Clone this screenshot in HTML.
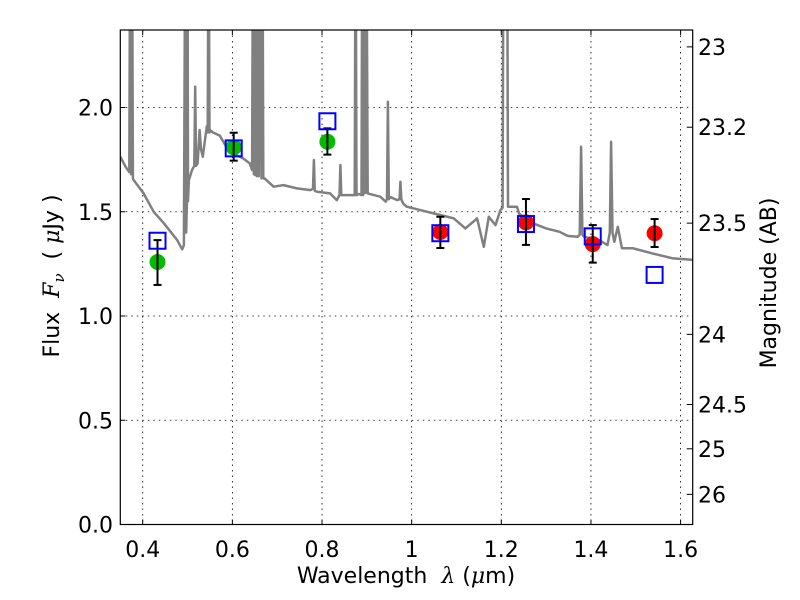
<!DOCTYPE html>
<html><head><meta charset="utf-8"><style>
body{margin:0;background:#fff}
svg{display:block;font-family:"DejaVu Sans","Liberation Sans",sans-serif}
</style></head><body>
<svg id="chart" width="800" height="600" xmlns="http://www.w3.org/2000/svg">
<defs><clipPath id="clip"><rect x="120.3" y="30" width="572.4" height="494.5"/></clipPath></defs>
<rect width="800" height="600" fill="#fff"/>
<g id="grid"></g>
<g id="spec" clip-path="url(#clip)"></g>
<g id="marks"></g>
<rect x="120.3" y="30" width="572.4" height="494.5" fill="none" stroke="#000" stroke-width="1.2"/>
<g id="axes" font-size="22" fill="#000"></g>
<text x="406" y="583" text-anchor="middle" font-size="22" xml:space="preserve">Wavelength  <tspan font-style="italic" font-family="'DejaVu Serif',serif">λ</tspan> (<tspan font-style="italic" font-family="'DejaVu Serif',serif">μ</tspan>m)</text>
<text transform="translate(59,276) rotate(-90)" text-anchor="middle" font-size="22" xml:space="preserve">Flux  <tspan font-style="italic" font-family="'DejaVu Serif',serif">F</tspan><tspan font-style="italic" font-family="'DejaVu Serif',serif" font-size="15" dy="5">ν</tspan><tspan dy="-5">  ( </tspan><tspan font-style="italic" font-family="'DejaVu Serif',serif">μ</tspan>Jy )</text>
<text transform="translate(776,283) rotate(-90)" text-anchor="middle" font-size="22">Magnitude (AB)</text>
</svg>
<script>
const xTicks=[0.4,0.6,0.8,1.0,1.2,1.4,1.6];
const xTickLabels=["0.4","0.6","0.8","1","1.2","1.4","1.6"];
const yTicks=[0,0.5,1.0,1.5,2.0];
const yTickLabels=["0.0","0.5","1.0","1.5","2.0"];
const magTicks=[23,23.2,23.5,24,24.5,25,26];
const magTickLabels=["23","23.2","23.5","24","24.5","25","26"];
const bandWave=[0.433,0.603,0.812,1.064,1.255,1.404,1.542];
const obsFlux=[1.259,1.809,1.836,1.403,1.449,1.345,1.397];
const obsErrHi=[1.364,1.879,1.900,1.476,1.561,1.436,1.465];
const obsErrLo=[1.149,1.745,1.774,1.326,1.341,1.256,1.331];
const obsColor=["#00bb00","#00bb00","#00bb00","#ff0000","#ff0000","#ff0000","#ff0000"];
const modelFlux=[1.361,1.804,1.934,1.397,1.441,1.382,1.197];
const specWave=[0.35,0.3615,0.370,0.372,0.374,0.376,0.378,0.38,0.402,0.4245,0.447,0.477,0.488,0.492,0.495,0.497,0.499,0.500,0.501,0.503,0.510,0.515,0.517,0.519,0.5225,0.527,0.530,0.534,0.543,0.545,0.547,0.549,0.55,0.557,0.572,0.587,0.602,0.624,0.639,0.644,0.646,0.648,0.651,0.653,0.655,0.657,0.659,0.662,0.665,0.667,0.669,0.672,0.692,0.714,0.744,0.774,0.780,0.782,0.784,0.789,0.818,0.833,0.839,0.841,0.843,0.848,0.87,0.873,0.875,0.877,0.882,0.888,0.890,0.892,0.895,0.897,0.899,0.902,0.93,0.942,0.945,0.947,0.949,0.953,0.968,0.973,0.975,0.977,0.981,0.989,1.019,1.049,1.094,1.12,1.146,1.161,1.172,1.187,1.198,1.203,1.205,1.213,1.215,1.22,1.235,1.24,1.27,1.3,1.33,1.348,1.37,1.375,1.378,1.381,1.385,1.418,1.437,1.442,1.445,1.448,1.452,1.46,1.469,1.493,1.537,1.581,1.627];
const specFlux=[1.764,1.716,1.69,3.0,1.68,3.0,1.66,1.652,1.588,1.50,1.445,1.364,1.32,1.34,3.0,1.40,1.59,3.0,1.55,1.652,1.70,1.72,2.10,1.72,1.732,1.892,1.80,1.764,1.91,1.88,3.0,1.88,1.892,1.88,1.865,1.81,1.78,1.756,1.732,1.70,3.0,1.68,1.676,3.0,1.67,3.0,1.67,3.0,1.66,3.0,1.66,1.66,1.62,1.628,1.612,1.604,1.61,1.748,1.60,1.596,1.588,1.556,1.58,1.724,1.58,1.58,1.58,1.58,3.0,1.58,1.585,1.58,3.0,1.58,3.0,1.59,3.0,1.588,1.572,1.548,1.56,2.028,1.56,1.57,1.556,1.56,1.644,1.56,1.54,1.524,1.508,1.492,1.468,1.42,1.468,1.332,1.476,1.436,1.508,1.52,3.0,3.0,1.524,1.524,1.524,1.49,1.445,1.42,1.404,1.384,1.38,1.39,1.812,1.39,1.38,1.364,1.34,1.40,1.836,1.40,1.356,1.428,1.325,1.325,1.30,1.277,1.269];

const X0=0.35,X1=1.627,PX0=120.3,PX1=692.7;
const PY0=524.5,YS=208.5;
const sx=v=>PX0+(v-X0)/(X1-X0)*(PX1-PX0);
const sy=v=>PY0-v*YS;
const magToFlux=m=>Math.pow(10,(23.9-m)/2.5);
const NS="http://www.w3.org/2000/svg";
function mk(tag,attrs,parent){const e=document.createElementNS(NS,tag);for(const k in attrs)e.setAttribute(k,attrs[k]);parent.appendChild(e);return e;}
const grid=document.getElementById('grid'),axes=document.getElementById('axes'),spec=document.getElementById('spec'),marks=document.getElementById('marks');

xTicks.forEach((t,i)=>{
  const x=sx(t);
  const g=mk('line',{x1:x,x2:x,y1:30,y2:PY0,stroke:'#000','stroke-width':0.8,'stroke-dasharray':'1.5,4'},grid);
  
  
  mk('line',{x1:x,x2:x,y1:PY0,y2:PY0-5,stroke:'#000'},axes);
  mk('line',{x1:x,x2:x,y1:30,y2:35,stroke:'#000'},axes);
  const tx=mk('text',{x:x,y:557,'text-anchor':'middle'},axes);
  tx.textContent=xTickLabels[i];
  
  
});
yTicks.forEach((t,i)=>{
  const y=sy(t);
  const g=mk('line',{x1:PX0,x2:PX1,y1:y,y2:y,stroke:'#000','stroke-width':0.8,'stroke-dasharray':'1.5,4'},grid);
  
  
  mk('line',{x1:PX0,x2:PX0+5,y1:y,y2:y,stroke:'#000'},axes);
  const tx=mk('text',{x:113,y:y+8,'text-anchor':'end'},axes);
  tx.textContent=yTickLabels[i];
  
  
});
magTicks.forEach((m,i)=>{
  const y=sy(magToFlux(m));
  mk('line',{x1:PX1,x2:PX1-6,y1:y,y2:y,stroke:'#000'},axes);
  const tx=mk('text',{x:698,y:y+8,'text-anchor':'start'},axes);
  tx.textContent=magTickLabels[i];
  
  
});

let d='';
specWave.forEach((w,i)=>{d+=(i?'L':'M')+sx(w).toFixed(1)+','+sy(specFlux[i]).toFixed(1);});
const sp=mk('path',{d:d,fill:'none',stroke:'#808080','stroke-width':2.5,'stroke-linejoin':'round'},spec);



bandWave.forEach((w,i)=>{
  const x=sx(w);
  const c=mk('circle',{cx:x,cy:sy(obsFlux[i]),r:8,fill:obsColor[i]},marks);
  
  
  const e=mk('g',{stroke:'#000','stroke-width':2},marks);
  
  
  mk('line',{x1:x,x2:x,y1:sy(obsErrHi[i]),y2:sy(obsErrLo[i])},e);
  mk('line',{x1:x-4,x2:x+4,y1:sy(obsErrHi[i]),y2:sy(obsErrHi[i])},e);
  mk('line',{x1:x-4,x2:x+4,y1:sy(obsErrLo[i]),y2:sy(obsErrLo[i])},e);
  const s=mk('rect',{x:x-8,y:sy(modelFlux[i])-8,width:16,height:16,fill:'none',stroke:'#0000ff','stroke-width':2},marks);
  
  
});
</script>
</body></html>
